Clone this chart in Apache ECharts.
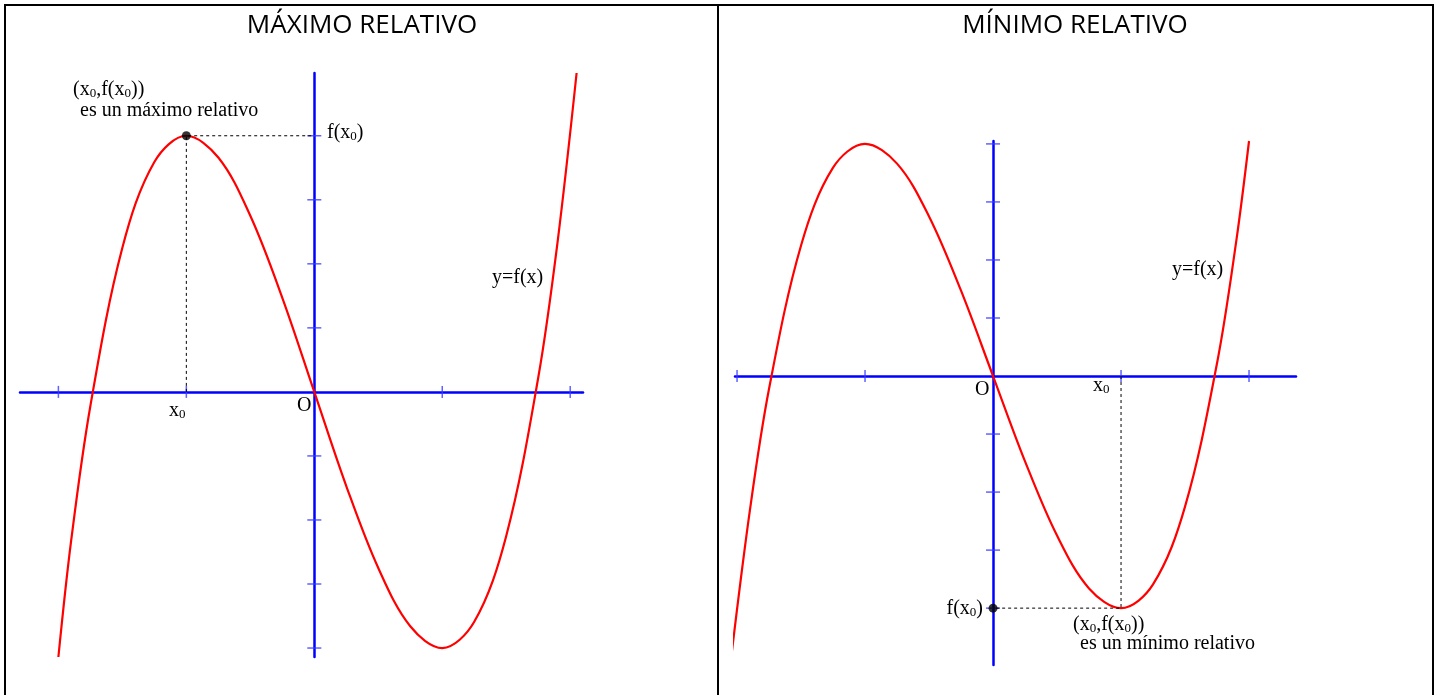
<!DOCTYPE html>
<html>
<head>
<meta charset="utf-8">
<script src="https://cdn.jsdelivr.net/npm/echarts@6/dist/echarts.min.js"></script>
<style>
  html, body { margin: 0; padding: 0; background: #fff; }
  #chart { width: 1438px; height: 695px; }
</style>
</head>
<body>
<div id="chart"></div>
<script>
// curve points (x in horizontal tick units, y in vertical tick units)
const maxCurveX = [-2.0, -1.9, -1.75, -1.5, -1.25, -1, -0.75, -0.5, -0.25, 0, 0.25, 0.5, 0.75, 1, 1.25, 1.5, 1.75, 1.9, 2.05];
const maxCurveY = [-4.14, -2.32, -0.22, 2.25, 3.59, 4, 3.66, 2.75, 1.47, 0, -1.47, -2.75, -3.66, -4, -3.59, -2.25, 0.22, 2.32, 4.98];
const minCurveX = [-2.05, -1.9, -1.75, -1.5, -1.25, -1, -0.75, -0.5, -0.25, 0, 0.25, 0.5, 0.75, 1, 1.25, 1.5, 1.75, 1.9, 2.0];
const minCurveY = [-4.93, -2.32, -0.22, 2.25, 3.59, 4, 3.66, 2.75, 1.47, 0, -1.47, -2.75, -3.66, -4, -3.59, -2.25, 0.22, 2.32, 4.05];

// tick positions on each axis
const maxXTicks = [-2, -1, 1, 2];
const maxYTicks = [-4, -3, -2, -1, 1, 2, 3, 4];
const minXTicks = [-2, -1, 1, 2];
const minYTicks = [-4, -3, -2, -1, 1, 2, 3, 4];

// the marked extreme points
const maxPoint = [-1, 4];
const minPoint = [1, -4];

const titles = ['MÁXIMO RELATIVO', 'MÍNIMO RELATIVO'];

const chart = echarts.init(document.getElementById('chart'));

const serif = '"Liberation Serif", "Times New Roman", serif';
const richSub = {
    s: { fontFamily: serif, fontSize: 13, fill: '#000', verticalAlign: 'bottom', padding: [0, 0, 0, 0] }
};

function zip(xs, ys) {
    return xs.map((x, i) => [x, ys[i]]);
}

function label(text, x, y, align) {
    return {
        type: 'text',
        x: x,
        y: y,
        z: 10,
        style: {
            text: text,
            font: '20px ' + serif,
            fill: '#000',
            textAlign: align || 'left',
            textVerticalAlign: 'middle',
            rich: richSub
        }
    };
}

function axisSet(idx, xmin, xmax, ymin, ymax) {
    const axisLine = { show: true, onZero: true, lineStyle: { color: '#0000ff', width: 2.5 } };
    return {
        x: {
            type: 'value', gridIndex: idx, min: xmin, max: xmax,
            axisLine: axisLine, axisTick: { show: false }, axisLabel: { show: false }, splitLine: { show: false }
        },
        y: {
            type: 'value', gridIndex: idx, min: ymin, max: ymax,
            axisLine: axisLine, axisTick: { show: false }, axisLabel: { show: false }, splitLine: { show: false }
        }
    };
}

const a0 = axisSet(0, -2.3, 2.1, -4.14, 4.98);
const a1 = axisSet(1, -2.016, 2.367, -4.98, 4.05);

function panelSeries(idx, cx, cy, xt, yt, guide, dot) {
    return [
        {
            type: 'scatter', xAxisIndex: idx, yAxisIndex: idx, z: 3,
            symbol: 'rect', symbolSize: [1.5, 12], silent: true,
            itemStyle: { color: '#3a3aff' },
            data: xt.map(t => [t, 0])
        },
        {
            type: 'scatter', xAxisIndex: idx, yAxisIndex: idx, z: 3,
            symbol: 'rect', symbolSize: [14, 1.5], silent: true,
            itemStyle: { color: '#3a3aff' },
            data: yt.map(t => [0, t])
        },
        {
            type: 'line', xAxisIndex: idx, yAxisIndex: idx, z: 4,
            showSymbol: false, smooth: 0.35, smoothConstraint: false, clip: false,
            lineStyle: { color: '#ff0000', width: 2.2 },
            data: zip(cx, cy)
        },
        {
            type: 'line', xAxisIndex: idx, yAxisIndex: idx, z: 5,
            showSymbol: false, clip: false,
            lineStyle: { color: '#000', width: 1, type: [3, 3] },
            data: guide
        },
        {
            type: 'scatter', xAxisIndex: idx, yAxisIndex: idx, z: 6,
            symbol: 'circle', symbolSize: 9,
            itemStyle: { color: '#000' },
            data: [dot]
        }
    ];
}

const option = {
    animation: false,
    backgroundColor: '#fff',
    grid: [
        { left: 20, top: 73, width: 563, height: 584 },
        { left: 735, top: 141, width: 561, height: 524 }
    ],
    xAxis: [a0.x, a1.x],
    yAxis: [a0.y, a1.y],
    series: [].concat(
        panelSeries(0, maxCurveX, maxCurveY, maxXTicks, maxYTicks,
            [[maxPoint[0], 0], maxPoint, [0, maxPoint[1]]], maxPoint),
        panelSeries(1, minCurveX, minCurveY, minXTicks, minYTicks,
            [[minPoint[0], 0], minPoint, [0, minPoint[1]]], [0, minPoint[1]])
    ),
    graphic: [
        // table borders
        { type: 'line', shape: { x1: 4, y1: 5, x2: 1434, y2: 5 }, style: { stroke: '#000', lineWidth: 2 } },
        { type: 'line', shape: { x1: 5, y1: 4, x2: 5, y2: 695 }, style: { stroke: '#000', lineWidth: 2 } },
        { type: 'line', shape: { x1: 718, y1: 4, x2: 718, y2: 695 }, style: { stroke: '#000', lineWidth: 2 } },
        { type: 'line', shape: { x1: 1433, y1: 4, x2: 1433, y2: 695 }, style: { stroke: '#000', lineWidth: 2 } },
        // titles
        { type: 'text', x: 362, y: 26, style: { text: titles[0], font: '26px "Open Sans", sans-serif', fill: '#000', textAlign: 'center', textVerticalAlign: 'middle' } },
        { type: 'text', x: 1075, y: 26, style: { text: titles[1], font: '26px "Open Sans", sans-serif', fill: '#000', textAlign: 'center', textVerticalAlign: 'middle' } },
        // left panel labels
        label('(x{s|0},f(x{s|0}))', 73, 90),
        label('es un máximo relativo', 80, 111),
        label('f(x{s|0})', 327, 133),
        label('x{s|0}', 169, 411),
        label('O', 297, 406),
        label('y=f(x)', 492, 278),
        // right panel labels
        label('O', 975, 390),
        label('x{s|0}', 1093, 386),
        label('f(x{s|0})', 983, 609, 'right'),
        label('(x{s|0},f(x{s|0}))', 1073, 625),
        label('es un mínimo relativo', 1080, 644),
        label('y=f(x)', 1172, 270)
    ]
};

chart.setOption(option);
</script>
</body>
</html>
